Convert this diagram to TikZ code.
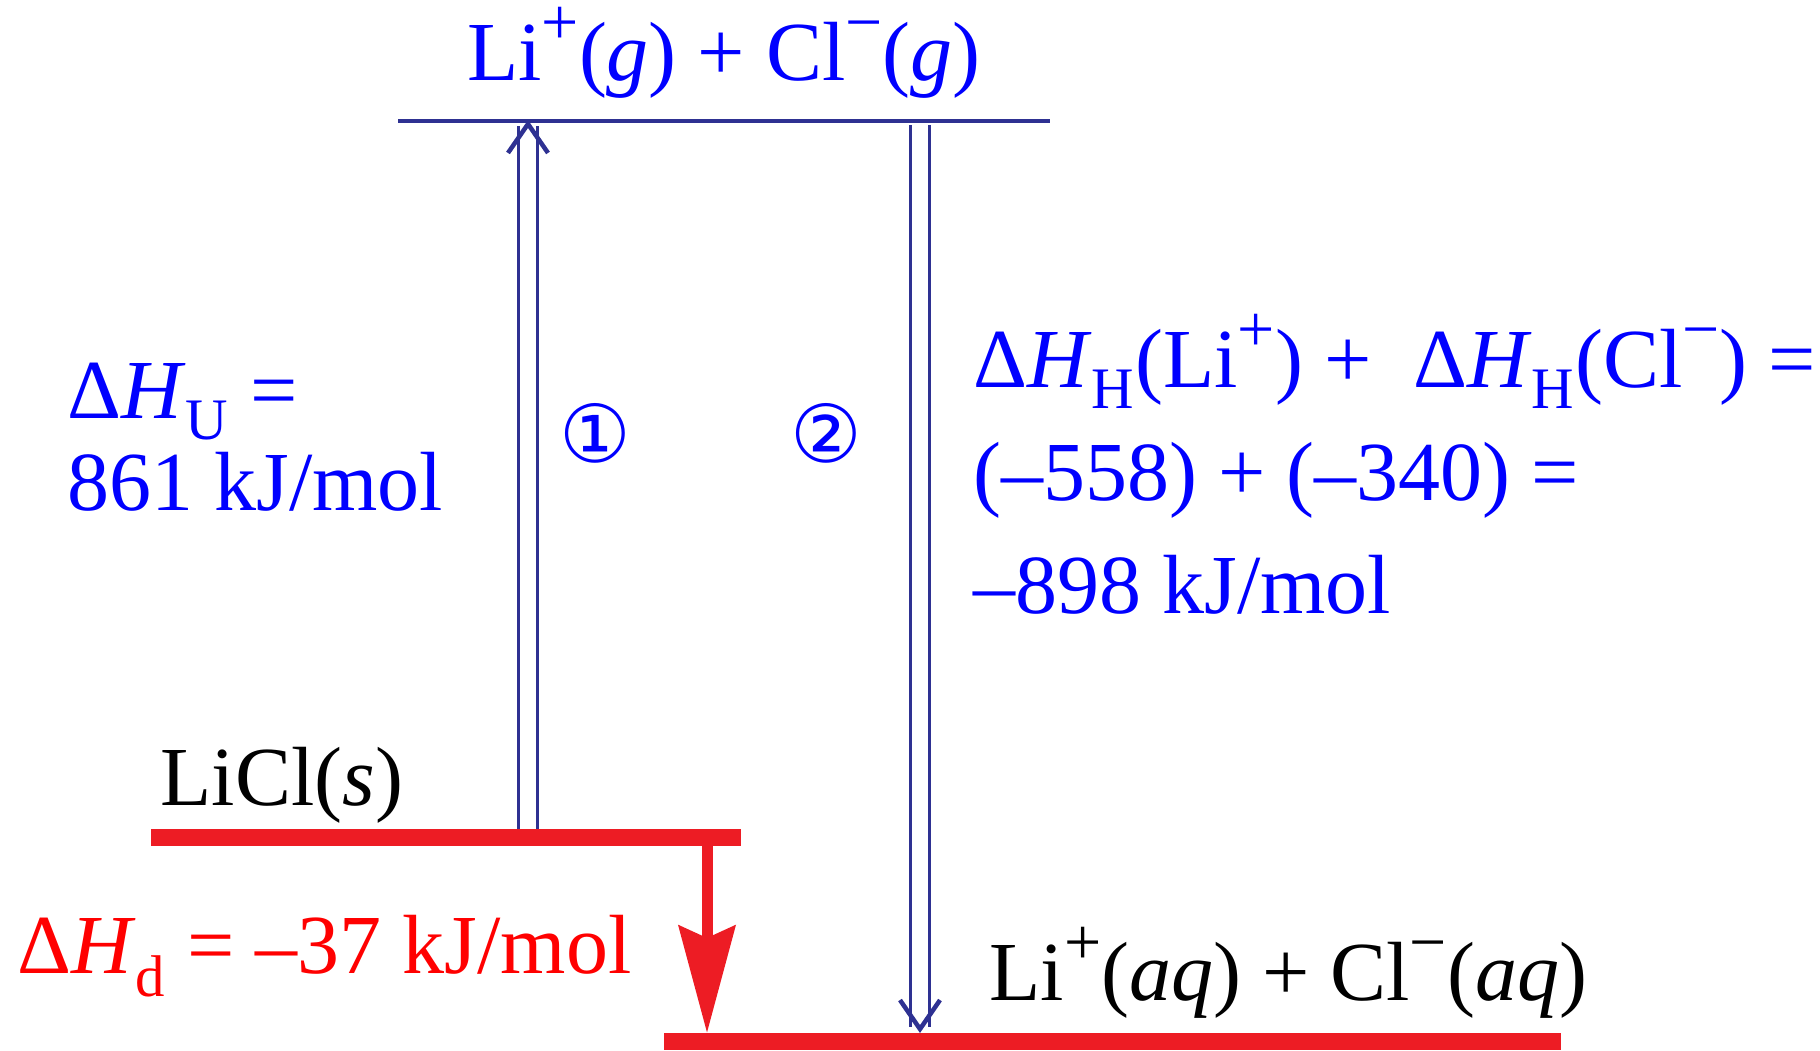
\documentclass[tikz,border=0pt]{standalone}
\usepackage{fontspec}
\setmainfont{Liberation Serif}
\newfontfamily\circfont{DejaVu Sans}
\usepackage{xcolor}
\definecolor{lvnavy}{RGB}{46,49,146}
\definecolor{lvred}{RGB}{237,28,36}
\definecolor{txblue}{RGB}{0,0,255}
\definecolor{txred}{RGB}{255,0,0}
\usetikzlibrary{arrows.meta,positioning}
\newcommand{\dH}[1]{Δ\textit{H}\textsubscript{#1}}
\newcommand{\phase}[1]{(\textit{#1})}
\newcommand{\ion}[1]{\raisebox{0.42em}[0pt][0pt]{\fontsize{33}{33}\selectfont #1}}
\tikzset{
  gaslvl/.style={lvnavy, line width=2pt},
  redlvl/.style={lvred, line width=8.5pt},
  dblarr/.style={lvnavy, line width=1.75pt, double=white, double distance=7.75pt, -{Straight Barb[length=14.5pt, width=20pt, line width=2.25pt]}},
  redarr/.style={lvred, line width=5.5pt, -{Stealth[length=53.5pt, width=28pt, inset=6pt]}},
  lbl/.style={inner sep=0pt, anchor=base west, align=left},
  circ/.style={inner sep=0pt, txblue, font=\fontsize{40}{40}\selectfont\circfont}
}
\begin{document}
\begin{tikzpicture}[x=0.5pt, y=-0.5pt, font=\fontsize{42}{50}\selectfont]
  \useasboundingbox (0,0) rectangle (1820,1050);
  \coordinate (gw) at (398,121);
  \coordinate (ge) at (1050,121);
  \coordinate (sw) at (151,837);
  \coordinate (se) at (741,837);
  \coordinate (aw) at (664,1041);
  \coordinate (ae) at (1561,1041);
  \draw[gaslvl] (gw) -- (ge);
  \draw[redlvl] (sw) -- (se);
  \draw[redlvl] (aw) -- (ae);
  \coordinate (u0) at (528,829);
  \coordinate (u1) at (528,120);
  \coordinate (d0) at (920,125);
  \coordinate (d1) at (920,1033);
  \coordinate (r0) at (707,846);
  \coordinate (r1) at (707,1033);
  \draw[dblarr] (u0) -- (u1);
  \draw[dblarr] (d0) -- (d1);
  \draw[redarr] (r0) -- (r1);
  \node[lbl, anchor=base, txblue] (gas) at (724,80) {Li\ion{+}\phase{g} + Cl\ion{−}\phase{g}};
  \node[lbl, txblue, font=\fontsize{42}{46}\selectfont] (dhu) at (67,510) {\dH{U} =\\861 kJ/mol};
  \node[lbl, txblue, font=\fontsize{42}{56.5}\selectfont] (dhh) at (973,613) {\dH{H}(Li\ion{+}) +~ \dH{H}(Cl\ion{−}) =\\(–558) + (–340) =\\–898 kJ/mol};
  \node[circ] (c1) at (595,433) {①};
  \node[circ] (c2) at (826,433) {②};
  \node[lbl] (licl) at (160,805) {LiCl\phase{s}};
  \node[lbl, txred] (dhd) at (17,973) {\dH{d} = –37 kJ/mol};
  \node[lbl] (aq) at (989,1000) {Li\ion{+}\phase{aq} + Cl\ion{−}\phase{aq}};
\end{tikzpicture}
\end{document}
